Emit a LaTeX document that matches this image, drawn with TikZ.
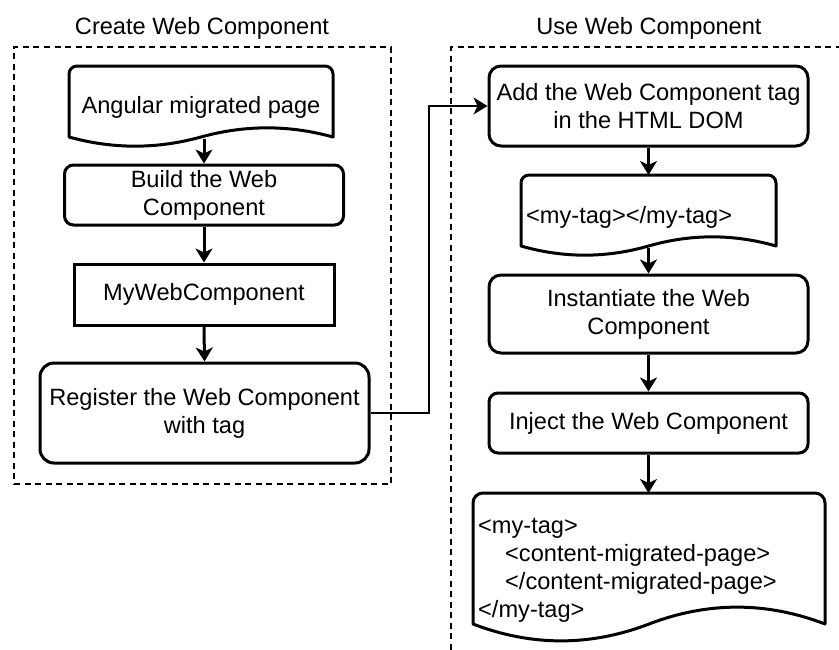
\documentclass[tikz,border=0pt]{standalone}
\usepackage{fontspec}
\setmainfont{Liberation Sans}
\usetikzlibrary{arrows.meta,calc}
\begin{document}
\begin{tikzpicture}[x=1pt,y=-1pt,
  every node/.style={font=\fontsize{23.6}{28}\selectfont, inner sep=0pt},
  proc/.style={draw, line width=3pt, align=center},
  docline/.style={draw, line width=3pt, line join=round},
  frame/.style={draw, line width=1.5pt, dash pattern=on 6pt off 4.5pt},
  arr/.style={line width=3pt, -{Stealth[length=14pt,width=17pt,inset=4pt]}},
  thinarr/.style={line width=1.5pt, -{Stealth[length=14pt,width=17pt,inset=4pt]}}]
\useasboundingbox (0,0) rectangle (839,649);
\clip (0,0) rectangle (839,649);

% group frames and titles
\node[frame, minimum width=377pt, minimum height=437pt] (g1) at (202.5,265.5) {};
\node[frame, minimum width=409pt, minimum height=633pt] (g2) at (655.5,363.5) {};
\node (t1) at (202,28) {Create Web Component};
\node (t2) at (649,28) {Use Web Component};

% left column
\draw[docline] (69,137) -- (69,74) arc[start angle=180,end angle=270,radius=8]
  -- (325,66) arc[start angle=270,end angle=360,radius=8] -- (333,137)
  .. controls (289,124.8) and (245,124.8) .. (201,137)
  .. controls (157,149.2) and (113,149.2) .. (69,137) -- cycle;
\node (doc1) at (201,107) {Angular migrated page};
\coordinate (d1b) at (204,139);

\node[proc, rounded corners=9pt, minimum width=279pt, minimum height=60pt] (build) at (204,195) {Build the Web\\Component};
\node[proc, minimum width=260pt, minimum height=61pt] (myweb) at (204,294.5) {MyWebComponent};
\node[proc, rounded corners=14pt, minimum width=329pt, minimum height=100pt] (reg) at (204.5,413) {Register the Web Component\\with tag};

% right column
\node[proc, rounded corners=12pt, minimum width=319pt, minimum height=80pt] (add) at (648.5,106) {Add the Web Component tag\\in the HTML DOM};

\draw[docline] (521,246) -- (521,183) arc[start angle=180,end angle=270,radius=8]
  -- (768,175) arc[start angle=270,end angle=360,radius=8] -- (776,246)
  .. controls (733.5,233.8) and (691,233.8) .. (648.5,246)
  .. controls (606,258.2) and (563.5,258.2) .. (521,246) -- cycle;
\node[anchor=west] (doc2) at (526,217) {<my-tag></my-tag>};
\coordinate (d2t) at (648.5,175);
\coordinate (d2b) at (648.5,248);

\node[proc, rounded corners=12pt, minimum width=319pt, minimum height=78pt] (inst) at (648.5,314) {Instantiate the Web\\Component};
\node[proc, rounded corners=9pt, minimum width=319pt, minimum height=60pt] (inj) at (648.5,423) {Inject the Web Component};

\draw[docline] (473,624) -- (473,503) arc[start angle=180,end angle=270,radius=10]
  -- (815,493) arc[start angle=270,end angle=360,radius=10] -- (825,624)
  .. controls (766.3,601.5) and (707.7,601.5) .. (649,624)
  .. controls (590.3,646.5) and (531.7,646.5) .. (473,624) -- cycle;
\node[anchor=west, align=left] (doc3) at (478,570) {<my-tag>\\\hspace*{27pt}<content-migrated-page>\\\hspace*{27pt}</content-migrated-page>\\</my-tag>};
\coordinate (d3t) at (648.5,493);

% connectors
\coordinate (bx) at (429,0);
\draw[arr] (d1b) -- (build.north);
\draw[arr] (build.south) -- (myweb.north);
\draw[arr] (myweb.south) -- (reg.north);
\draw[thinarr] (reg.east) -- (reg.east -| bx) |- (add.west);
\draw[arr] (add.south) -- (d2t);
\draw[arr] (d2b) -- (inst.north);
\draw[arr] (inst.south) -- (inj.north);
\draw[arr] (inj.south) -- (d3t);
\end{tikzpicture}
\end{document}
